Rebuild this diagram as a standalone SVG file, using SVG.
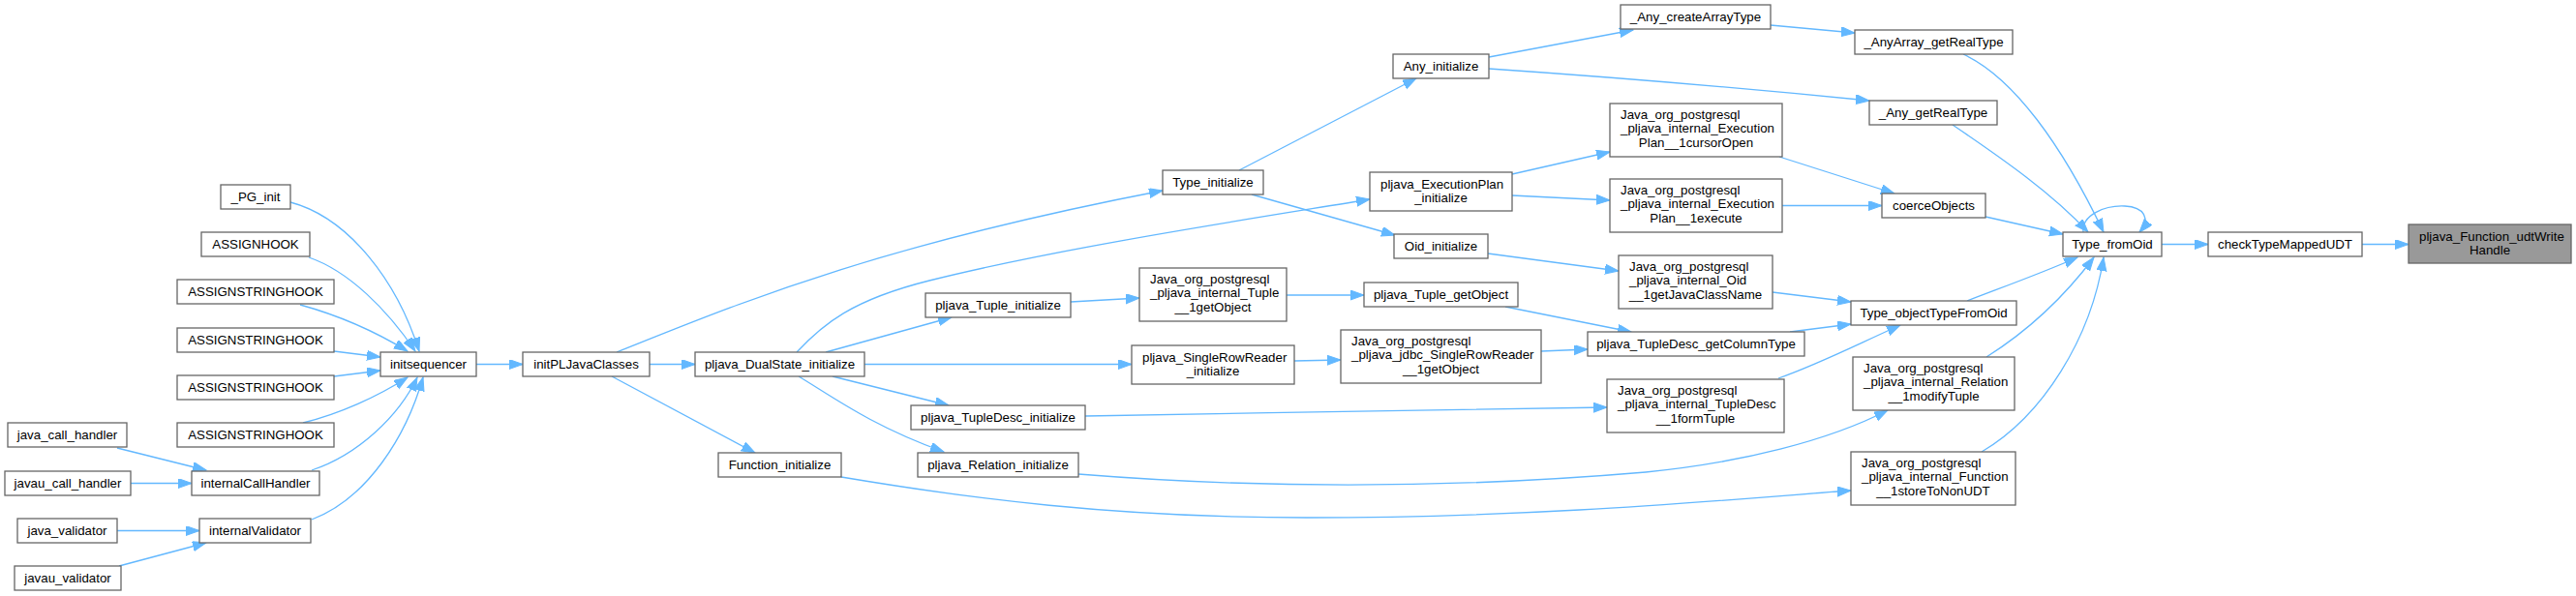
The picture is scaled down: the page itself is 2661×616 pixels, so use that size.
<svg xmlns="http://www.w3.org/2000/svg" width="2661" height="616" viewBox="0 0 2661 616">
<defs>
<style>
.n rect{fill:#ffffff;stroke:#666666;stroke-width:1.3}
.hl rect{fill:#999999;stroke:#666666;stroke-width:1.3}
text{font-family:"Liberation Sans",Arial,Helvetica,sans-serif;font-size:13.3px;fill:#000000}
.c{text-anchor:middle}
.e path{fill:none;stroke:#63b8ff;stroke-width:1.3;marker-end:url(#ah)}
</style>
<marker id="ah" markerWidth="16" markerHeight="12" refX="14" refY="5" orient="auto" markerUnits="userSpaceOnUse"><path d="M0,0 L14,5 L0,10 z" fill="#63b8ff" stroke="#63b8ff" stroke-width="1"/></marker>
</defs>
<rect width="2661" height="616" fill="#ffffff"/>
<g class="e" id="edges">
<path d="M300,209 C360,225 410,290 433,363"/>
<path d="M319,266 C360,280 400,320 429,363"/>
<path d="M310,315 C350,326 390,344 421,363"/>
<path d="M345,363 L393,369"/>
<path d="M345,389 L393,383"/>
<path d="M313,437 C350,428 390,410 421,390"/>
<path d="M322,486 C370,470 412,430 431,390"/>
<path d="M322,537 C380,515 420,450 437,390"/>
<path d="M121,463 L213,486"/>
<path d="M135,499.5 L198,499.5"/>
<path d="M121,548.5 L206,548.5"/>
<path d="M123,585 L213,561"/>
<path d="M492,376.5 L540,376.5"/>
<path d="M671,376.5 L718,376.5"/>
<path d="M637,364 C760,315 900,255 1201,197"/>
<path d="M632,389 L780,468"/>
<path d="M823,364 C850,335 880,310 960,290 C1100,255 1300,225 1415,206"/>
<path d="M853,364 L983,328"/>
<path d="M893,376.5 L1169,376.5"/>
<path d="M860,389 L980,419"/>
<path d="M825,389 C860,410 900,440 975,467"/>
<path d="M1280,176 L1463,81"/>
<path d="M1293,201 L1441,243"/>
<path d="M1538,59 L1687,31"/>
<path d="M1538,71 C1700,82 1820,93 1931,104"/>
<path d="M1829,26 L1916,34"/>
<path d="M2028,56 C2080,80 2130,150 2173,240"/>
<path d="M2017,129 C2070,165 2120,200 2157,240"/>
<path d="M1562,180 L1663,157"/>
<path d="M1562,202 L1663,207"/>
<path d="M1838,162 L1957,200"/>
<path d="M1841,212.5 L1944,212.5"/>
<path d="M2051,224 L2131,242"/>
<path d="M1537,262 L1672,280"/>
<path d="M1831,302 L1912,312"/>
<path d="M1106,312 L1177,308"/>
<path d="M1329,305 L1409,305"/>
<path d="M1555,317 L1685,343"/>
<path d="M1337,373 L1385,372"/>
<path d="M1592,363 L1640,361"/>
<path d="M1849,343 L1912,335"/>
<path d="M1837,391 C1877,377 1910,360 1963,336"/>
<path d="M1121,430 C1300,427 1500,423 1660,421"/>
<path d="M1114,490 C1300,505 1500,505 1700,488 C1800,478 1890,455 1950,424"/>
<path d="M869,493 C1000,515 1150,535 1350,535 C1600,535 1800,515 1912,507"/>
<path d="M2032,311 C2060,300 2110,282 2146,266"/>
<path d="M2052,369 C2090,345 2130,310 2163,266"/>
<path d="M2047,467 C2110,430 2160,350 2173,266"/>
<path d="M2152,240 C2150,222 2175,212 2195,213 C2215,214 2222,226 2210,240"/>
<path d="M2233,252.5 L2281,252.5"/>
<path d="M2440,252.5 L2488,252.5"/>
</g>
<g id="n_pg_init" class="n"><rect x="228" y="191" width="72" height="25"/><text class="c" x="264" y="207.5">_PG_init</text></g>
<g id="n_assignhook" class="n"><rect x="208" y="240" width="112" height="25"/><text class="c" x="264" y="256.5">ASSIGNHOOK</text></g>
<g id="n_ash1" class="n"><rect x="183" y="289" width="162" height="25"/><text class="c" x="264" y="305.5">ASSIGNSTRINGHOOK</text></g>
<g id="n_ash2" class="n"><rect x="183" y="339" width="162" height="25"/><text class="c" x="264" y="355.5">ASSIGNSTRINGHOOK</text></g>
<g id="n_ash3" class="n"><rect x="183" y="388" width="162" height="25"/><text class="c" x="264" y="404.5">ASSIGNSTRINGHOOK</text></g>
<g id="n_ash4" class="n"><rect x="183" y="437" width="162" height="25"/><text class="c" x="264" y="453.5">ASSIGNSTRINGHOOK</text></g>
<g id="n_initsequencer" class="n"><rect x="393" y="364" width="99" height="25"/><text class="c" x="442.5" y="380.5">initsequencer</text></g>
<g id="n_java_call_handler" class="n"><rect x="8" y="437" width="123" height="25"/><text class="c" x="69.5" y="453.5">java_call_handler</text></g>
<g id="n_javau_call_handler" class="n"><rect x="5" y="487" width="130" height="25"/><text class="c" x="70" y="503.5">javau_call_handler</text></g>
<g id="n_internalCallHandler" class="n"><rect x="198" y="487" width="132" height="25"/><text class="c" x="264" y="503.5">internalCallHandler</text></g>
<g id="n_java_validator" class="n"><rect x="18" y="536" width="103" height="25"/><text class="c" x="69.5" y="552.5">java_validator</text></g>
<g id="n_internalValidator" class="n"><rect x="206" y="536" width="115" height="25"/><text class="c" x="263.5" y="552.5">internalValidator</text></g>
<g id="n_javau_validator" class="n"><rect x="15" y="585" width="110" height="25"/><text class="c" x="70" y="601.5">javau_validator</text></g>
<g id="n_initPLJavaClasses" class="n"><rect x="540" y="364" width="131" height="25"/><text class="c" x="605.5" y="380.5">initPLJavaClasses</text></g>
<g id="n_dualstate" class="n"><rect x="718" y="364" width="175" height="25"/><text class="c" x="805.5" y="380.5">pljava_DualState_initialize</text></g>
<g id="n_type_initialize" class="n"><rect x="1201" y="176" width="104" height="25"/><text class="c" x="1253" y="192.5">Type_initialize</text></g>
<g id="n_function_initialize" class="n"><rect x="742" y="468" width="127" height="25"/><text class="c" x="805.5" y="484.5">Function_initialize</text></g>
<g id="n_executionplan_initialize" class="n"><rect x="1415" y="178" width="147" height="40"/><text x="1426" y="194.5">pljava_ExecutionPlan</text><text class="c" x="1488.5" y="209">_initialize</text></g>
<g id="n_tuple_initialize" class="n"><rect x="956" y="303" width="150" height="25"/><text class="c" x="1031" y="319.5">pljava_Tuple_initialize</text></g>
<g id="n_tuple_jni_getobject" class="n"><rect x="1177" y="277" width="152" height="55"/><text x="1188" y="292.5">Java_org_postgresql</text><text x="1188" y="307">_pljava_internal_Tuple</text><text class="c" x="1253" y="321.5">__1getObject</text></g>
<g id="n_srr_initialize" class="n"><rect x="1169" y="357" width="168" height="40"/><text x="1180" y="373.5">pljava_SingleRowReader</text><text class="c" x="1253" y="388">_initialize</text></g>
<g id="n_tupledesc_initialize" class="n"><rect x="941" y="419" width="180" height="25"/><text class="c" x="1031" y="435.5">pljava_TupleDesc_initialize</text></g>
<g id="n_relation_initialize" class="n"><rect x="948" y="468" width="166" height="25"/><text class="c" x="1031" y="484.5">pljava_Relation_initialize</text></g>
<g id="n_any_initialize" class="n"><rect x="1439" y="56" width="99" height="25"/><text class="c" x="1488.5" y="72.5">Any_initialize</text></g>
<g id="n_oid_initialize" class="n"><rect x="1440" y="242" width="97" height="25"/><text class="c" x="1488.5" y="258.5">Oid_initialize</text></g>
<g id="n_any_createarraytype" class="n"><rect x="1674" y="5" width="155" height="25"/><text class="c" x="1751.5" y="21.5">_Any_createArrayType</text></g>
<g id="n_cursoropen" class="n"><rect x="1663" y="107" width="178" height="55"/><text x="1674" y="122.5">Java_org_postgresql</text><text x="1674" y="137">_pljava_internal_Execution</text><text class="c" x="1752" y="151.5">Plan__1cursorOpen</text></g>
<g id="n_execute" class="n"><rect x="1663" y="185" width="178" height="55"/><text x="1674" y="200.5">Java_org_postgresql</text><text x="1674" y="215">_pljava_internal_Execution</text><text class="c" x="1752" y="229.5">Plan__1execute</text></g>
<g id="n_getjavaclassname" class="n"><rect x="1672" y="264" width="159" height="55"/><text x="1683" y="279.5">Java_org_postgresql</text><text x="1683" y="294">_pljava_internal_Oid</text><text class="c" x="1751.5" y="308.5">__1getJavaClassName</text></g>
<g id="n_tuple_getobject" class="n"><rect x="1409" y="292" width="159" height="25"/><text class="c" x="1488.5" y="308.5">pljava_Tuple_getObject</text></g>
<g id="n_jdbc_srr_getobject" class="n"><rect x="1385" y="341" width="207" height="55"/><text x="1396" y="356.5">Java_org_postgresql</text><text x="1396" y="371">_pljava_jdbc_SingleRowReader</text><text class="c" x="1488.5" y="385.5">__1getObject</text></g>
<g id="n_tupledesc_getcolumntype" class="n"><rect x="1640" y="343" width="224" height="25"/><text class="c" x="1752" y="359.5">pljava_TupleDesc_getColumnType</text></g>
<g id="n_formtuple" class="n"><rect x="1660" y="392" width="183" height="55"/><text x="1671" y="407.5">Java_org_postgresql</text><text x="1671" y="422">_pljava_internal_TupleDesc</text><text class="c" x="1751.5" y="436.5">__1formTuple</text></g>
<g id="n_anyarray_getrealtype" class="n"><rect x="1916" y="31" width="163" height="25"/><text class="c" x="1997.5" y="47.5">_AnyArray_getRealType</text></g>
<g id="n_any_getrealtype" class="n"><rect x="1931" y="104" width="132" height="25"/><text class="c" x="1997" y="120.5">_Any_getRealType</text></g>
<g id="n_coerceobjects" class="n"><rect x="1944" y="200" width="107" height="25"/><text class="c" x="1997.5" y="216.5">coerceObjects</text></g>
<g id="n_type_fromoid" class="n"><rect x="2131" y="240" width="102" height="25"/><text class="c" x="2182" y="256.5">Type_fromOid</text></g>
<g id="n_objecttypefromoid" class="n"><rect x="1912" y="311" width="171" height="25"/><text class="c" x="1997.5" y="327.5">Type_objectTypeFromOid</text></g>
<g id="n_modifytuple" class="n"><rect x="1914" y="369" width="167" height="55"/><text x="1925" y="384.5">Java_org_postgresql</text><text x="1925" y="399">_pljava_internal_Relation</text><text class="c" x="1997.5" y="413.5">__1modifyTuple</text></g>
<g id="n_storetononudt" class="n"><rect x="1912" y="467" width="170" height="55"/><text x="1923" y="482.5">Java_org_postgresql</text><text x="1923" y="497">_pljava_internal_Function</text><text class="c" x="1997" y="511.5">__1storeToNonUDT</text></g>
<g id="n_checktypemappedudt" class="n"><rect x="2281" y="240" width="159" height="25"/><text class="c" x="2360.5" y="256.5">checkTypeMappedUDT</text></g>
<g id="n_udtwritehandle" class="hl"><rect x="2488" y="232" width="168" height="40"/><text x="2499" y="248.5">pljava_Function_udtWrite</text><text class="c" x="2572" y="263">Handle</text></g>
</svg>
